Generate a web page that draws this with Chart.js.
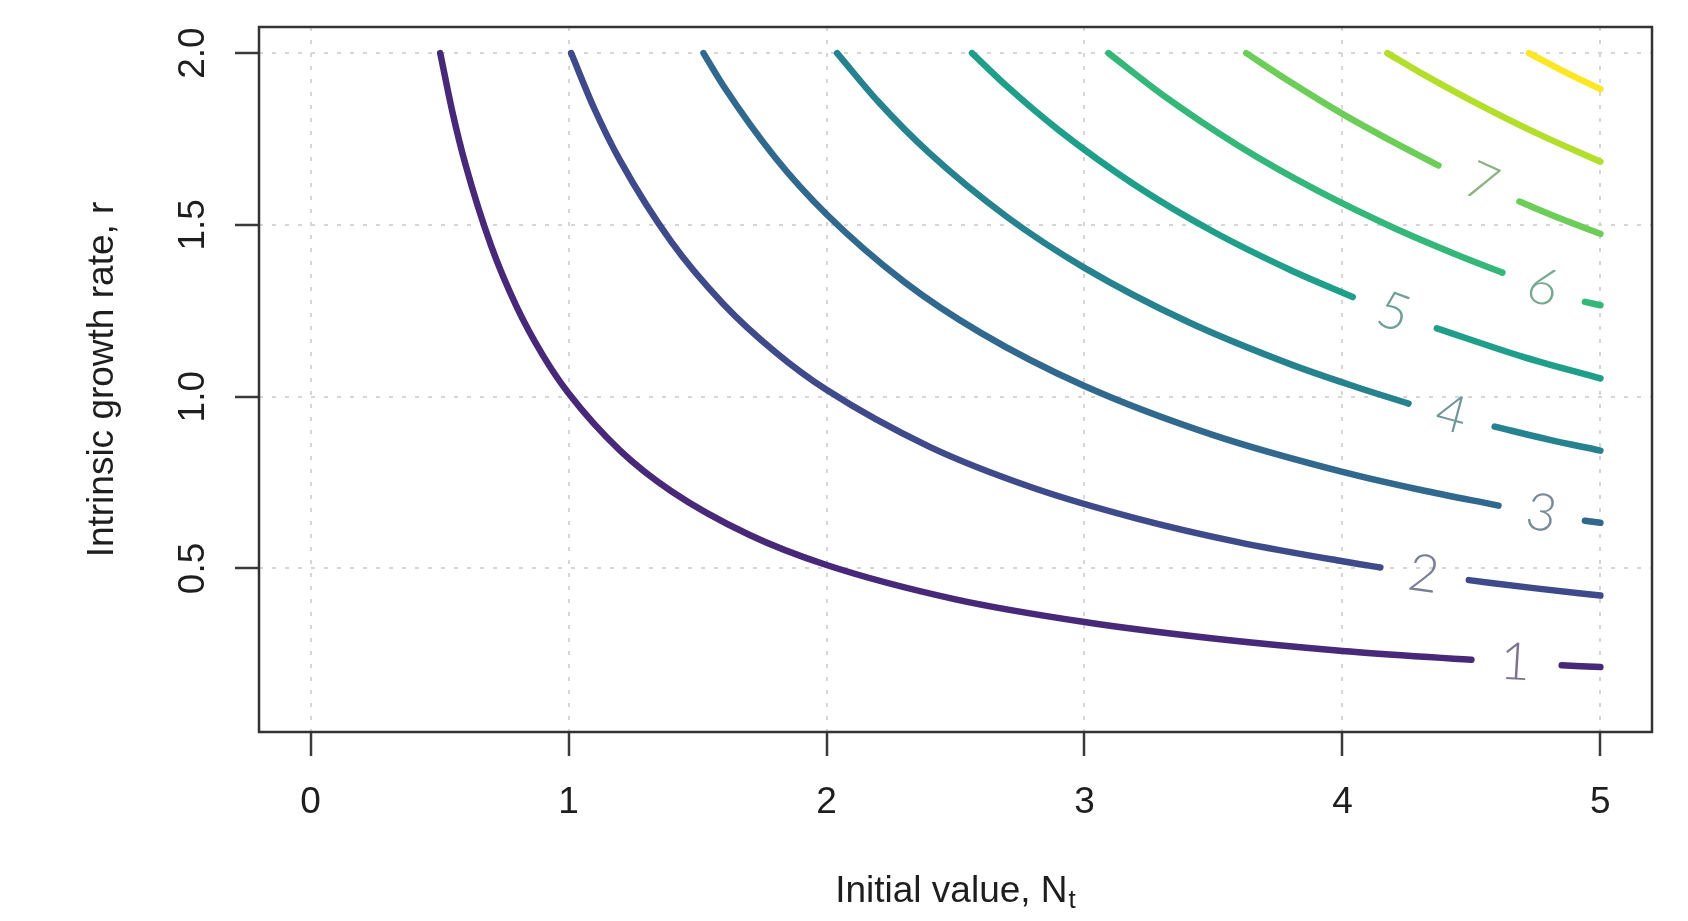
<!DOCTYPE html>
<html>
<head>
<meta charset="utf-8">
<script src="https://cdn.jsdelivr.net/npm/chart.js@4.4.1/dist/chart.umd.min.js"></script>
<style>
  html, body { margin: 0; padding: 0; background: #fff; }
  #wrap { width: 1688px; height: 921px; position: relative; }
</style>
</head>
<body>
<div id="wrap"><canvas id="contourChart"></canvas></div>
<script>
// contour levels, one curve each
const levels = [1, 2, 3, 4, 5, 6, 7, 8, 9];

// points (N_t, r); a null r is the gap left for the label
const n1 = [0.5025, 0.55, 0.6, 0.7, 0.8, 0.9, 1.0, 1.2, 1.4, 1.7, 2.0, 2.5, 3.0, 3.5, 4.0, 4.5, 4.67, 4.85, 5.0];
const r1 = [2.0, 1.828, 1.677, 1.439, 1.26, 1.121, 1.01, 0.843, 0.724, 0.598, 0.51, 0.41, 0.344, 0.296, 0.26, 0.234, null, 0.218, 0.213];
const n2 = [1.01, 1.1, 1.2, 1.4, 1.6, 1.8, 2.0, 2.4, 2.8, 3.2, 3.6, 4.0, 4.147, 4.32, 4.49, 4.75, 5.0];
const r2 = [2.0, 1.838, 1.687, 1.449, 1.27, 1.131, 1.02, 0.854, 0.735, 0.646, 0.576, 0.521, 0.503, null, 0.466, 0.442, 0.421];
const n3 = [1.523, 1.6, 1.8, 2.0, 2.3, 2.6, 3.0, 3.5, 4.0, 4.3, 4.605, 4.77, 4.94, 5.0];
const r3 = [2.0, 1.905, 1.697, 1.531, 1.335, 1.185, 1.031, 0.888, 0.781, 0.729, 0.683, null, 0.639, 0.633];
const n4 = [2.041, 2.2, 2.4, 2.7, 3.0, 3.4, 3.8, 4.05, 4.256, 4.42, 4.59, 4.8, 5.0];
const r4 = [2.0, 1.859, 1.708, 1.523, 1.375, 1.218, 1.094, 1.029, 0.98, null, 0.913, 0.875, 0.843];
const n5 = [2.564, 2.7, 2.9, 3.2, 3.5, 3.8, 4.04, 4.2, 4.366, 4.7, 5.0];
const r5 = [2.0, 1.903, 1.776, 1.614, 1.48, 1.368, 1.29, null, 1.199, 1.116, 1.053];
const n6 = [3.093, 3.3, 3.6, 3.9, 4.2, 4.45, 4.62, 4.78, 4.94, 5.0];
const r6 = [2.0, 1.88, 1.729, 1.601, 1.491, 1.411, 1.361, null, 1.276, 1.266];
const n7 = [3.627, 3.8, 4.0, 4.2, 4.372, 4.53, 4.686, 4.85, 5.0];
const r7 = [2.0, 1.915, 1.823, 1.74, 1.673, null, 1.568, 1.517, 1.474];
const n8 = [4.174, 4.3, 4.5, 4.75, 5.0];
const r8 = [2.0, 1.944, 1.862, 1.768, 1.684];
const n9 = [4.723, 4.85, 5.0];
const r9 = [2.0, 1.95, 1.895];

// contour labels (only the first seven levels carry one)
const labelLevels = [1, 2, 3, 4, 5, 6, 7];
const labelN = [4.67, 4.314, 4.771, 4.422, 4.198, 4.779, 4.538];
const labelR = [0.226, 0.482, 0.66, 0.948, 1.245, 1.318, 1.622];

// axis ticks
const xTicks = [0, 1, 2, 3, 4, 5];
const yTicks = [0.5, 1.0, 1.5, 2.0];

const curveN = [n1, n2, n3, n4, n5, n6, n7, n8, n9];
const curveR = [r1, r2, r3, r4, r5, r6, r7, r8, r9];

// viridis, skipping the darkest step
const lineColors = ['#482878', '#3E4A89', '#31688E', '#26828E', '#1F9E89', '#35B779', '#6DCD59', '#B4DE2C', '#FDE725'];
const fontFamily = '"Liberation Sans", Arial, Helvetica, sans-serif';
const textColor = '#1e1e1e';

// labels look greyer than the lines: blend toward grey
function greyed(hex, t) {
  const c = [1, 3, 5].map(i => parseInt(hex.slice(i, i + 2), 16));
  const m = c.map(v => Math.round(v * (1 - t) + 130 * t));
  return 'rgb(' + m.join(',') + ')';
}

// box around the plot region
const frame = {
  id: 'frame',
  afterDraw(chart) {
    const {ctx, chartArea: a} = chart;
    ctx.save();
    ctx.strokeStyle = '#333';
    ctx.lineWidth = 2.5;
    ctx.strokeRect(a.left, a.top, a.right - a.left, a.bottom - a.top);
    ctx.restore();
  }
};

// x title with subscript t
const xTitle = {
  id: 'xTitle',
  afterDraw(chart) {
    const {ctx, chartArea: a} = chart;
    const main = 'Initial value, N';
    const sub = 't';
    ctx.save();
    ctx.fillStyle = textColor;
    ctx.textAlign = 'left';
    ctx.textBaseline = 'alphabetic';
    ctx.font = '37px ' + fontFamily;
    const w1 = ctx.measureText(main).width;
    ctx.font = '26px ' + fontFamily;
    const w2 = ctx.measureText(sub).width;
    const x0 = (a.left + a.right) / 2 - (w1 + w2 + 1) / 2;
    const base = a.bottom + 170;
    ctx.font = '37px ' + fontFamily;
    ctx.fillText(main, x0, base);
    ctx.font = '26px ' + fontFamily;
    ctx.fillText(sub, x0 + w1 + 1, base + 6);
    ctx.restore();
  }
};

// numbers written into the gaps, turned along the curve
const contourLabels = {
  id: 'contourLabels',
  afterDatasetsDraw(chart) {
    const {ctx, scales: {x, y}} = chart;
    labelLevels.forEach((lv, i) => {
      const idx = levels.indexOf(lv);
      const ns = curveN[idx], rs = curveR[idx];
      const g = rs.indexOf(null);
      const ax = x.getPixelForValue(ns[g - 1]), ay = y.getPixelForValue(rs[g - 1]);
      const bx = x.getPixelForValue(ns[g + 1]), by = y.getPixelForValue(rs[g + 1]);
      ctx.save();
      ctx.translate(x.getPixelForValue(labelN[i]), y.getPixelForValue(labelR[i]));
      ctx.rotate(Math.atan2(by - ay, bx - ax));
      ctx.font = '300 52px Lato, "Noto Sans", sans-serif';
      ctx.fillStyle = greyed(lineColors[idx], 0.55);
      ctx.globalAlpha = 0.85;
      ctx.textAlign = 'center';
      ctx.textBaseline = 'middle';
      ctx.fillText(String(lv), 0, 0);
      ctx.restore();
    });
  }
};

const datasets = levels.map((lv, i) => ({
  label: String(lv),
  data: curveN[i].map((n, j) => ({x: n, y: curveR[i][j]})),
  borderColor: lineColors[i],
  borderWidth: 6.5,
  borderCapStyle: 'round',
  borderJoinStyle: 'round',
  cubicInterpolationMode: 'monotone',
  spanGaps: false,
  pointRadius: 0,
  fill: false
}));

new Chart(document.getElementById('contourChart'), {
  type: 'line',
  data: { datasets },
  options: {
    responsive: true,
    maintainAspectRatio: false,
    animation: false,
    layout: { padding: { top: 27, right: 36, left: 0, bottom: 0 } },
    plugins: { legend: { display: false }, tooltip: { enabled: false } },
    scales: {
      x: {
        type: 'linear',
        min: -0.2,
        max: 5.2,
        afterBuildTicks: s => { s.ticks = xTicks.map(v => ({value: v})); },
        afterFit: s => { s.height = 189; s.paddingLeft = 0; s.paddingRight = 0; },
        grid: { color: '#d6d6d6', lineWidth: 2, tickLength: 24, tickColor: '#3a3a3a', tickWidth: 2.5 },
        border: { display: false, dash: [4, 9] },
        ticks: { autoSkip: false, maxRotation: 0, padding: 25, color: textColor, font: { family: fontFamily, size: 37 }, callback: v => String(v) }
      },
      y: {
        type: 'linear',
        min: 0.024,
        max: 2.076,
        afterBuildTicks: s => { s.ticks = yTicks.map(v => ({value: v})); },
        afterFit: s => { s.width = 259; s.paddingTop = 0; s.paddingBottom = 0; },
        grid: { color: '#d6d6d6', lineWidth: 2, tickLength: 24, tickColor: '#3a3a3a', tickWidth: 2.5 },
        border: { display: false, dash: [4, 9] },
        ticks: { autoSkip: false, minRotation: 90, maxRotation: 90, crossAlign: 'center', padding: 15, color: textColor, font: { family: fontFamily, size: 37 }, callback: v => v.toFixed(1) },
        title: { display: true, text: 'Intrinsic growth rate, r', color: textColor, font: { family: fontFamily, size: 37 }, padding: { top: 81, bottom: 0 } }
      }
    }
  },
  plugins: [frame, xTitle, contourLabels]
});
</script>
</body>
</html>
